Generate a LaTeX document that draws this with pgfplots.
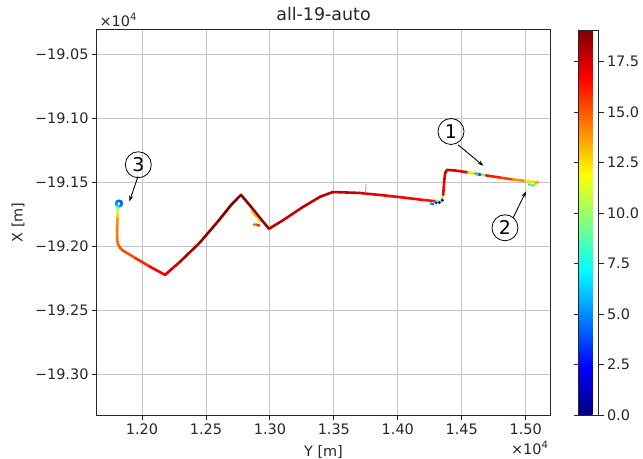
\documentclass[border=0pt]{standalone}
\usepackage{fontspec}
\setmainfont{DejaVu Sans}
\usepackage{pgfplots}
\pgfplotsset{compat=1.18}
\usetikzlibrary{arrows.meta}

\definecolor{txt}{HTML}{262626}
\definecolor{gridc}{HTML}{C4C4C4}

\newcommand{\tickfont}{\fontsize{14.5}{16}\selectfont}

\begin{document}
\begin{tikzpicture}
% page frame around the axis box (axis box lower-left at origin)
\path[use as bounding box] (-97bp,-44bp) rectangle (546bp,415bp);
\begin{axis}[
  scale only axis,
  width=453bp, height=385bp,
  xmin=11648, xmax=15190,
  ymin=-193320, ymax=-190312,
  scaled ticks=false,
  clip=false,
  axis line style={txt, line width=1bp},
  tick align=outside,
  xtick pos=bottom, ytick pos=left,
  major tick length=5bp,
  tick style={txt, line width=0.9bp},
  xtick={12000,12500,...,15000},
  xticklabels={1.20,1.25,1.30,1.35,1.40,1.45,1.50},
  ytick={-193000,-192500,...,-190500},
  yticklabels={−19.30,−19.25,−19.20,−19.15,−19.10,−19.05},
  ticklabel style={font=\tickfont, text=txt},
  grid=major,
  major grid style={gridc, line width=0.9bp},
  colormap/jet,
  point meta min=0, point meta max=19.06,
  colorbar,
  colorbar style={
    at={(parent axis.north east)}, anchor=north west, xshift=20bp,
    width=20bp, scale only axis,
    axis line style={txt, line width=0.8bp},
    tick align=outside,
    major tick length=5bp,
    tick style={txt, line width=0.9bp},
    ytick={0,2.5,5,7.5,10,12.5,15,17.5},
    yticklabels={0.0,2.5,5.0,7.5,10.0,12.5,15.0,17.5},
    yticklabel style={font=\tickfont, text=txt},
  },
]

% trajectory coloured by speed
\addplot[mesh, point meta=explicit, line width=2.6bp, line cap=round, line join=round]
table[meta=c] {
x y c
11820 -191690 5
11836 -191684 5
11842 -191668 4.5
11836 -191652 4
11820 -191646 4
11804 -191652 4.5
11798 -191668 5
11804 -191684 5.5
11812 -191695 7
11810 -191720 10
11809 -191750 12
11808 -191790 13.5
11806 -191850 14.5
11805 -191930 14.5
11810 -191980 14.5
11825 -192010 15
11850 -192035 15
11950 -192095 15.5
12060 -192160 16.5
12180 -192225 17
12300 -192120 17.8
12450 -191975 18.5
12600 -191800 19
12700 -191675 19
12774 -191600 18.8
12850 -191690 18.8
12930 -191790 18.8
12993 -191865 18.2
13100 -191800 17.5
13250 -191700 17.8
13392 -191615 18
13493 -191578 18.2
13700 -191585 17.5
13900 -191605 17
14050 -191622 16.5
14200 -191640 16.8
14300 -191650 16
14340 -191655 4
14355 -191600 16.5
14362 -191500 17
14370 -191430 17.5
14385 -191405 17.5
14450 -191410 17.5
14550 -191425 17
14610 -191435 8
14650 -191441 2
14690 -191448 16.5
14800 -191465 16
14900 -191480 15
15000 -191492 13
15060 -191500 12
15090 -191505 14
};

% short detours off the main track
\addplot[mesh, point meta=explicit, line width=1.6bp, line cap=round]
table[meta=c] {
x y c
12855 -191720 14
12895 -191775 13
12920 -191810 12
};
\addplot[only marks, scatter, mark=*, mark size=1.3bp, point meta=explicit]
table[meta=c] {
x y c
12880 -191832 14.5
12898 -191834 15
12912 -191838 15.5
14260 -191668 6
14275 -191672 5
14300 -191662 3
14325 -191660 1
14348 -191642 2
14620 -191440 9
14640 -191443 4
15030 -191520 8
15055 -191526 9
15075 -191518 11
15095 -191500 13
};
\addplot[gray!70, line width=1bp] coordinates {(13752,-191515) (13748,-191585)};

% annotations
\node[draw=black, circle, minimum size=26bp, inner sep=0pt, line width=0.8bp]
  at (axis cs:14416,-191105) {\fontsize{19}{19}\selectfont 1};
\draw[-{Stealth[length=6bp,width=4bp]}, line width=0.9bp] (axis cs:14471,-191209) -- (axis cs:14669,-191373);
\node[draw=black, circle, minimum size=26bp, inner sep=0pt, line width=0.8bp]
  at (axis cs:14838,-191857) {\fontsize{19}{19}\selectfont 2};
\draw[-{Stealth[length=6bp,width=4bp]}, line width=0.9bp] (axis cs:14901,-191779) -- (axis cs:15003,-191573);
\node[draw=black, circle, minimum size=26bp, inner sep=0pt, line width=0.8bp]
  at (axis cs:11971,-191365) {\fontsize{19}{19}\selectfont 3};
\draw[-{Stealth[length=6bp,width=4bp]}, line width=0.9bp] (axis cs:11969,-191456) -- (axis cs:11901,-191652);

% titles and labels
\node[text=txt, font=\fontsize{17.5}{19}\selectfont] at (rel axis cs:0.5,1) [yshift=16bp] {all-19-auto};
\node[text=txt, font=\tickfont] at (rel axis cs:0.5,0) [yshift=-37bp] {Y [m]};
\node[text=txt, font=\tickfont, xshift=-79bp, rotate=90] at (rel axis cs:0,0.5) {X [m]};
\node[text=txt, font=\tickfont, anchor=west] at (rel axis cs:0,1) [yshift=10bp, xshift=-1bp] {×10\textsuperscript{4}};
\node[text=txt, font=\tickfont, anchor=east] at (rel axis cs:1,0) [yshift=-33bp, xshift=2bp] {×10\textsuperscript{4}};
\end{axis}
\end{tikzpicture}
\end{document}
